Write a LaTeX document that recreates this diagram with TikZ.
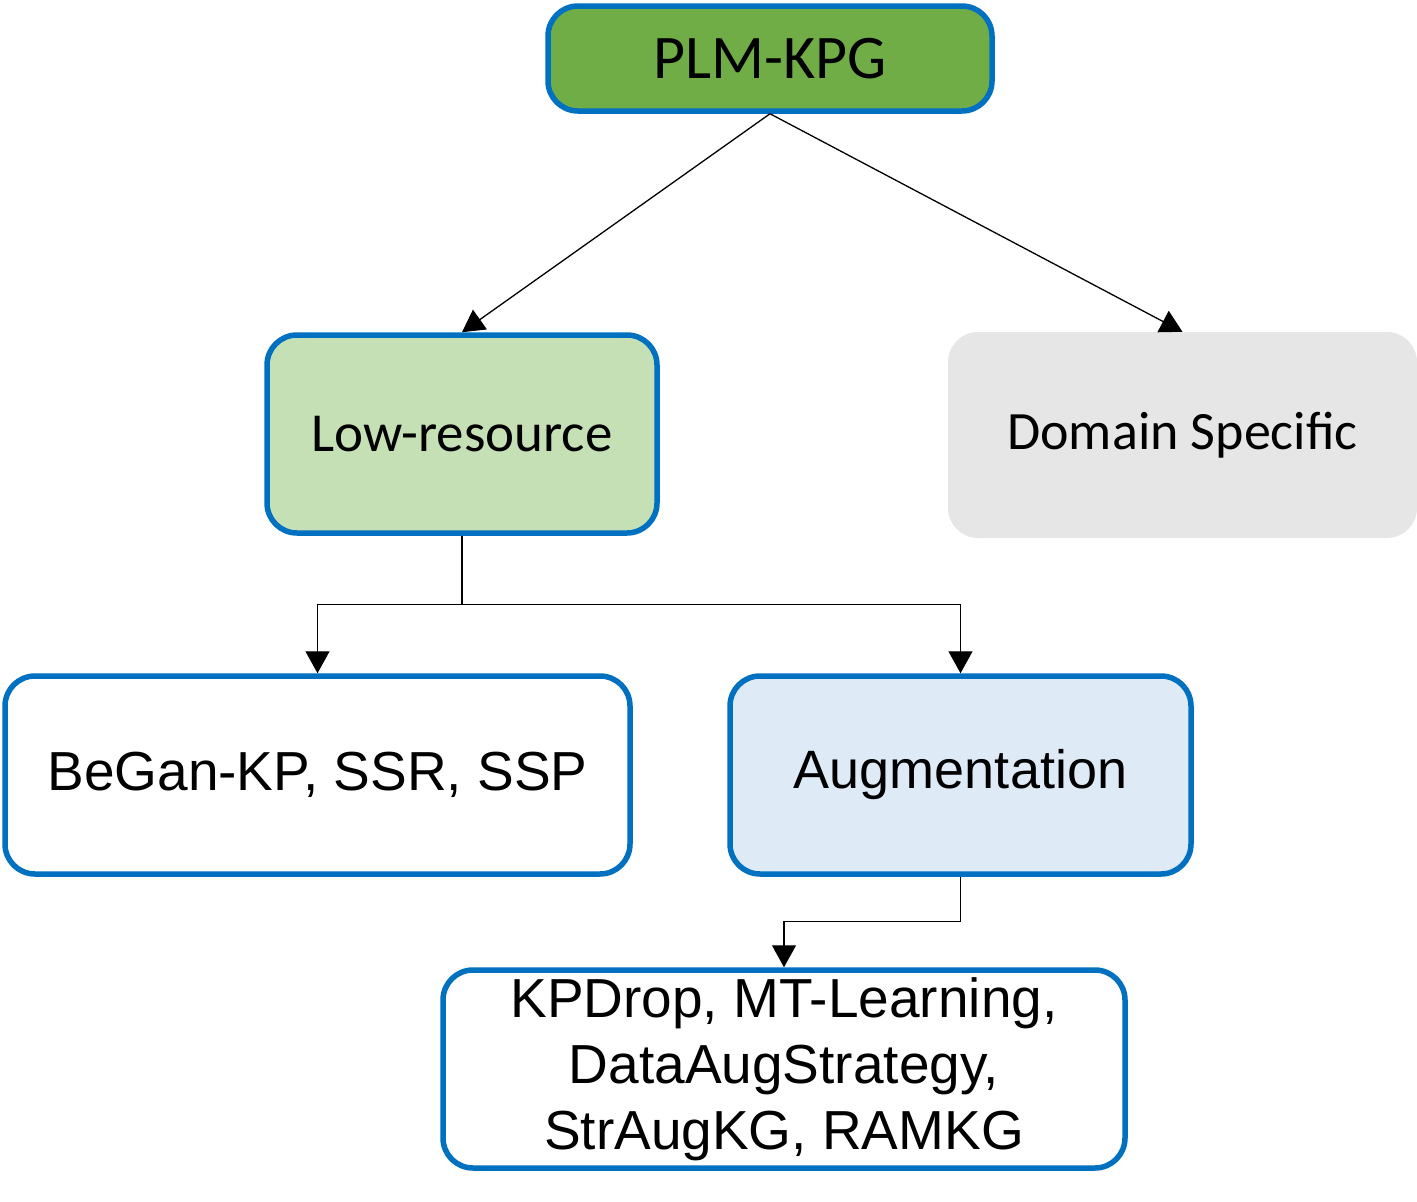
\documentclass[tikz,border=0pt]{standalone}
\usepackage{fontspec}
\setmainfont{Liberation Sans}
\newfontfamily\calib{Carlito}
\usetikzlibrary{arrows.meta,positioning,calc}
\definecolor{bord}{HTML}{0070C0}
\definecolor{gdark}{HTML}{70AD47}
\definecolor{glight}{HTML}{C5E0B4}
\definecolor{greyf}{HTML}{E7E6E6}
\definecolor{bluef}{HTML}{DEEBF7}
\tikzset{
  boxs/.style={rounded corners=30pt, draw=bord, line width=5.5pt, align=center, inner sep=0pt},
  arr/.style={line width=1.3pt, -{Triangle[width=24pt,length=22pt]}},
  ln/.style={line width=1.3pt}
}
\begin{document}
\begin{tikzpicture}[x=1pt,y=-1pt]
\useasboundingbox (0,0) rectangle (1417,1202);
\node[boxs, fill=gdark, minimum width=444pt, minimum height=105pt, font=\calib\fontsize{62}{74}\selectfont] (top) at (770,58.5) {PLM-KPG};
\node[boxs, fill=glight, minimum width=390pt, minimum height=198pt, font=\calib\fontsize{55}{66}\selectfont] (low) at (462,434) {Low-resource};
\node[rounded corners=30pt, fill=greyf, inner sep=0pt, minimum width=469pt, minimum height=206pt, font=\calib\fontsize{54}{64}\selectfont] (dom) at (1182.5,435) {Domain Specific};
\node[boxs, fill=white, minimum width=625pt, minimum height=198pt, font=\fontsize{55}{66}\selectfont] (began) at (317.5,775) {BeGan-KP, SSR, SSP};
\node[boxs, fill=bluef, minimum width=461pt, minimum height=198pt, font=\fontsize{54}{65}\selectfont] (aug) at (960.5,775) {Augmentation};
\node[boxs, fill=white, minimum width=682pt, minimum height=198pt, font=\fontsize{55}{66}\selectfont] (bot) at (784,1069) {KPDrop, MT-Learning,\\DataAugStrategy,\\StrAugKG, RAMKG};
\draw[arr] (top.south) -- (low.north);
\draw[arr] (top.south) -- (dom.north);
\coordinate (jl) at ($(low.south)+(0,69)$);
\draw[ln] (low.south) -- (jl);
\draw[arr] (jl) -| (began.north);
\draw[arr] (jl) -| (aug.north);
\coordinate (ja) at ($(aug.south)+(0,45)$);
\draw[arr] (aug.south) -- (ja) -| (bot.north);
\end{tikzpicture}
\end{document}
